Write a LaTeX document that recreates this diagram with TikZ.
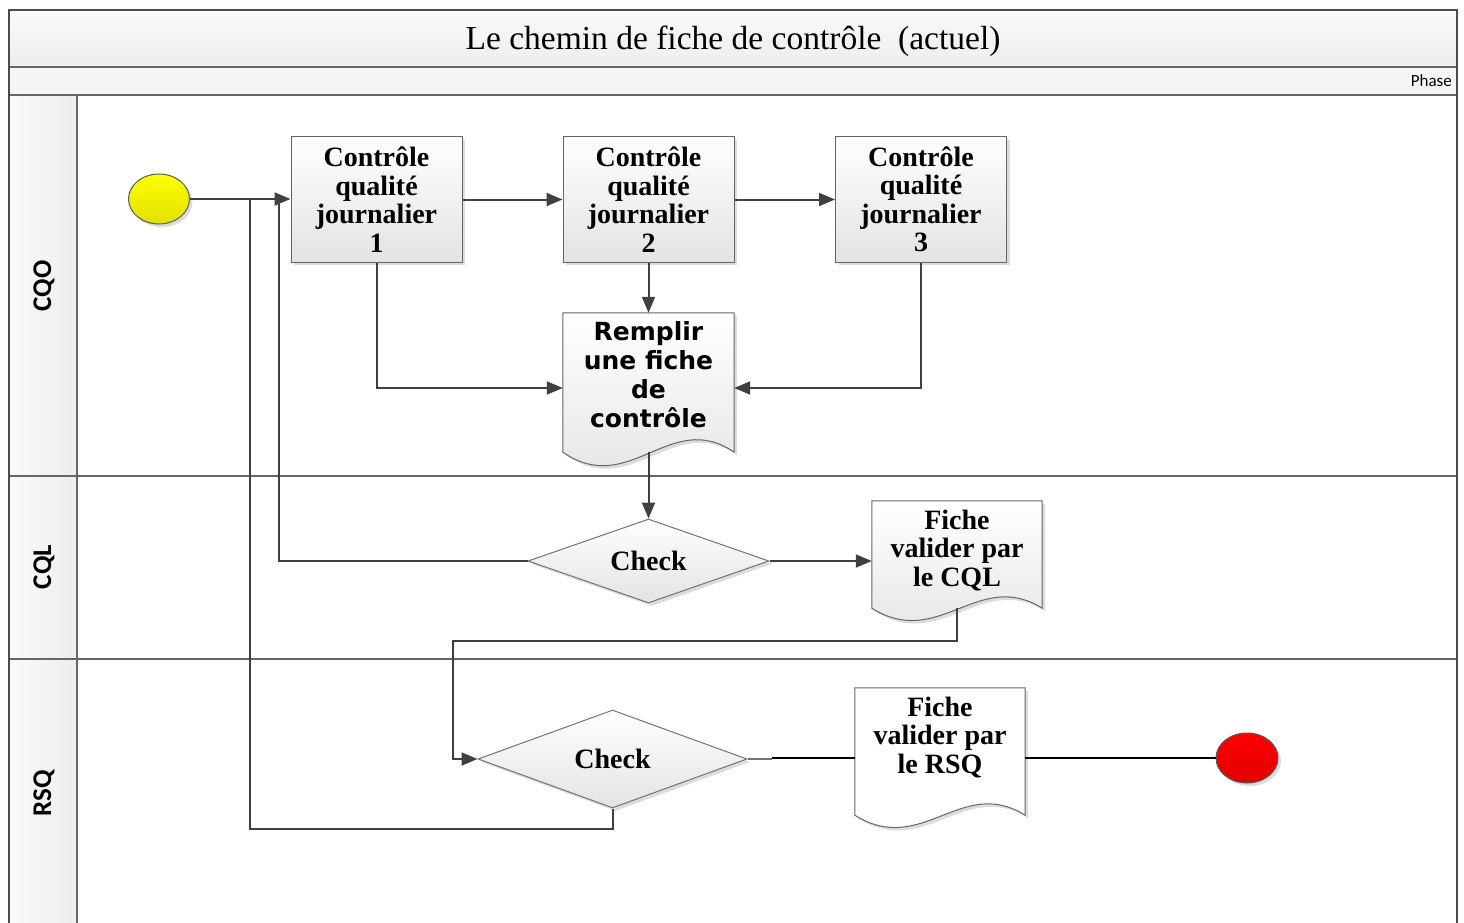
\documentclass[tikz,border=0pt]{standalone}
\usepackage{fontspec}
\setmainfont{Liberation Serif}
\newfontfamily\lanefont{Carlito}
\newfontfamily\verd{DejaVu Sans}
\usetikzlibrary{shapes.geometric,shadows,arrows.meta,calc}
\begin{document}
\begin{tikzpicture}[x=1pt,y=-1pt,
  frameline/.style={draw=black!70, line width=2pt},
  laneline/.style={draw=black!60, line width=1.3pt},
  conn/.style={draw=black!75, line width=2pt},
  arr/.style={conn,-{Triangle[length=16pt,width=13pt]}},
  thinconn/.style={draw=black, line width=1.2pt},
  shade/.style={drop shadow={shadow xshift=3pt,shadow yshift=-3pt,opacity=0.3,fill=black!45}},
  procbox/.style={draw=black!60, line width=1pt, top color=white, bottom color=black!11,
    minimum width=171pt, minimum height=125pt, inner sep=0pt, shade,
    font=\fontsize{28}{28.5}\selectfont\bfseries, align=center},
  docarea/.style={inner sep=0pt, minimum width=171pt},
  docshape/.style={draw=black!60, line width=1pt, top color=white, bottom color=black!11, shade},
  doctext/.style={font=\fontsize{28}{28.5}\selectfont\bfseries, align=center},
  decision/.style={diamond, draw=black!55, line width=1pt, top color=white, bottom color=black!11,
    inner sep=0pt, shade, font=\fontsize{28}{28.5}\selectfont\bfseries},
  event/.style={ellipse, draw=black!65, line width=1pt, minimum width=61pt, minimum height=50pt, inner sep=0pt, shade},
  lanelabel/.style={rotate=90, font=\lanefont\fontsize{27}{27}\selectfont\bfseries}
]
\useasboundingbox (0,0) rectangle (1464,923);
% frame and bands
\fill[top color=black!2, bottom color=black!7] (9,10) rectangle (1457,67);
\fill[black!4] (9,67) rectangle (1457,95);
\fill[left color=black!2, right color=black!7] (9,95) rectangle (77,923);
\draw[laneline] (9,67) -- (1457,67);
\draw[laneline] (9,95) -- (1457,95);
\draw[laneline] (9,476) -- (1457,476);
\draw[laneline] (9,659) -- (1457,659);
\draw[laneline] (77,95) -- (77,923);
\draw[frameline] (9,925) -- (9,10) -- (1457,10) -- (1457,925);
\node (title) at (733,41) {\fontsize{33.5}{33.5}\selectfont Le chemin de fiche de contr\^ole\ \ (actuel)};
\node[anchor=east, inner sep=0pt, font=\lanefont\fontsize{17}{17}\selectfont] (phase) at (1452,81) {Phase};
\node[lanelabel] (lcqo) at (44,286) {CQO};
\node[lanelabel] (lcql) at (44,567) {CQL};
\node[lanelabel] (lrsq) at (44,793) {RSQ};

% nodes
\node[event, top color=yellow, bottom color=yellow!88!black] (start) at (159,199) {};
\node[procbox] (b1) at (376.5,199.5) {Contr\^ole\\qualit\'e\\journalier\\1};
\node[procbox] (b2) at (648.5,199.5) {Contr\^ole\\qualit\'e\\journalier\\2};
\node[procbox] (b3) at (921,199.5) {Contr\^ole\\qualit\'e\\journalier\\3};

\node[docarea, minimum height=139pt] (rem) at (648.5,382.5) {};
\path[docshape] (rem.north west) -- (rem.south west)
  .. controls ($(rem.south west)+(67,46)$) and ($(rem.south east)+(-64,-44)$) .. (rem.south east)
  -- (rem.north east) -- cycle;
\node[font=\verd\fontsize{25}{29}\selectfont\bfseries, align=center] (remt) at (648.5,374.5) {Remplir\\une fiche\\de\\contr\^ole};

\node[decision, minimum width=241pt, minimum height=84pt, aspect=2.87] (ch1) at (648.5,561) {Check};

\node[docarea, minimum width=170pt, minimum height=107pt] (fcql) at (957,554.5) {};
\path[docshape] (fcql.north west) -- (fcql.south west)
  .. controls ($(fcql.south west)+(67,42)$) and ($(fcql.south east)+(-64,-40)$) .. (fcql.south east)
  -- (fcql.north east) -- cycle;
\node[doctext] (fcqlt) at (957,550.5) {Fiche\\valider par\\le CQL};

\node[decision, minimum width=269pt, minimum height=98pt, aspect=2.74] (ch2) at (612.5,759) {Check};

\node[docarea, minimum width=170pt, minimum height=127pt] (frsq) at (940,751.5) {};
\path[docshape, bottom color=white] (frsq.north west) -- (frsq.south west)
  .. controls ($(frsq.south west)+(67,42)$) and ($(frsq.south east)+(-64,-40)$) .. (frsq.south east)
  -- (frsq.north east) -- cycle;
\node[doctext] (frsqt) at (940,737.5) {Fiche\\valider par\\le RSQ};

\node[event, top color=red, bottom color=red!88!black, minimum width=62pt] (endc) at (1247,758) {};

% connectors
\draw[conn] (ch1.west) -| ($(b1.west)+(-12,0)$);
\draw[conn] (ch2.south) -- ++(0,20) -| ($(b1.west)+(-41,0)$);
\draw[arr] (start.east) -- (start.east -| b1.west);
\draw[arr] (b1.east) -- (b2.west);
\draw[arr] (b2.east) -- (b3.west);
\draw[arr] (b2.south) -- (rem.north);
\draw[arr] (b1.south) |- ([yshift=-5.5pt]rem.west);
\draw[arr] (b3.south) |- ([yshift=-5.5pt]rem.east);
\draw[arr] (rem.south) -- (ch1.north);
\draw[arr] (ch1.east) -- (ch1.east -| fcql.west);
\draw[arr] (fcql.south) -- ++(0,33) -| ($(ch2.west)+(-25,0)$) -- (ch2.west);
\draw[conn, draw=black!55] (ch2.east) -- ++(24,0) coordinate (k);
\draw[thinconn] ([yshift=1pt]k) -- ([yshift=1pt]k -| frsq.west);
\draw[thinconn] (endc.west -| frsq.east) -- (endc.west);
\end{tikzpicture}
\end{document}
